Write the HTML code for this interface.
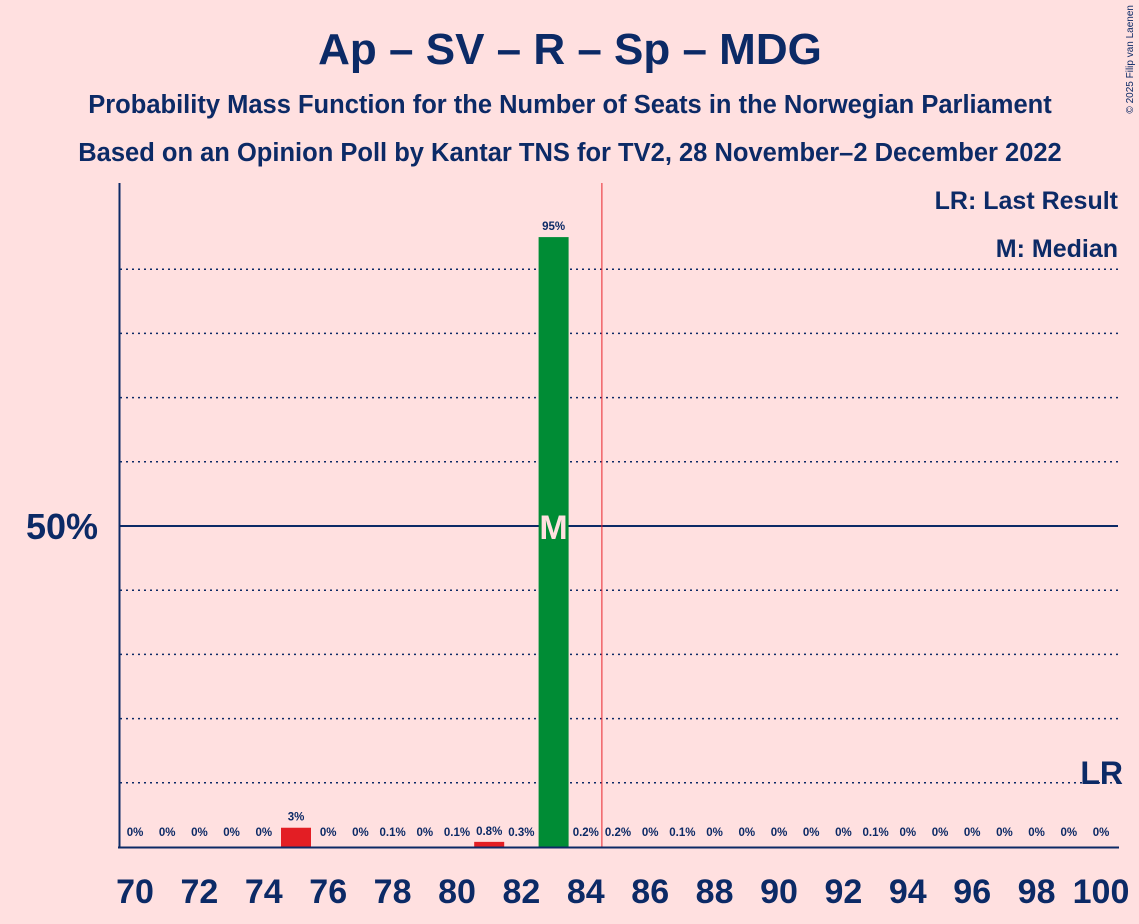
<!DOCTYPE html>
<html><head><meta charset="utf-8"><style>
body{margin:0;background:#ffe0e0;}
svg{display:block;font-family:"Liberation Sans",sans-serif;}
</style></head><body>
<svg id="c" width="1139" height="924" xmlns="http://www.w3.org/2000/svg">
<rect width="1139" height="924" fill="#ffe0e0"/>
<text x="570" y="64" text-anchor="middle" font-size="44" font-weight="bold" fill="#0c2a66">Ap – SV – R – Sp – MDG</text>
<text x="570" y="113" text-anchor="middle" font-size="25.5" font-weight="bold" fill="#0c2a66">Probability Mass Function for the Number of Seats in the Norwegian Parliament</text>
<text x="570" y="161" text-anchor="middle" font-size="25.5" font-weight="bold" fill="#0c2a66">Based on an Opinion Poll by Kantar TNS for TV2, 28 November–2 December 2022</text>
<text x="1133" y="5" font-size="10" fill="#0c2a66" transform="rotate(-90 1133 5)" text-anchor="end">© 2025 Filip van Laenen</text>
<g id="grid"></g>
<g id="bars"></g>
<line x1="119.5" y1="183" x2="119.5" y2="848" stroke="#0c2a66" stroke-width="2"/>
<line x1="118" y1="847.5" x2="1119" y2="847.5" stroke="#0c2a66" stroke-width="2"/>
<text x="98" y="539" text-anchor="end" font-size="36" font-weight="bold" fill="#0c2a66">50%</text>
<text x="1118" y="209" text-anchor="end" font-size="25" font-weight="bold" fill="#0c2a66">LR: Last Result</text>
<text x="1118" y="257" text-anchor="end" font-size="25" font-weight="bold" fill="#0c2a66">M: Median</text>
</svg>
<script>
const seats=[70,71,72,73,74,75,76,77,78,79,80,81,82,83,84,85,86,87,88,89,90,91,92,93,94,95,96,97,98,99,100];
const probs=[0,0,0,0,0,3,0,0,0.1,0,0.1,0.8,0.3,95,0.2,0.2,0,0.1,0,0,0,0,0,0.1,0,0,0,0,0,0,0];
const labels=["0%","0%","0%","0%","0%","3%","0%","0%","0.1%","0%","0.1%","0.8%","0.3%","95%","0.2%","0.2%","0%","0.1%","0%","0%","0%","0%","0%","0.1%","0%","0%","0%","0%","0%","0%","0%"];
const gridTicks=[10,20,30,40,60,70,80,90];
const lastResult=100, median=83, majority=85;
const NS="http://www.w3.org/2000/svg";
const X=s=>135+(s-70)*32.2;
const Y=p=>847-p*6.42;
function el(t,a,parent){const e=document.createElementNS(NS,t);for(const k in a)e.setAttribute(k,a[k]);parent.appendChild(e);return e;}
const svg=document.getElementById('c'),grid=document.getElementById('grid'),bars=document.getElementById('bars');
gridTicks.forEach(g=>{const l=el('line',{x1:120,x2:1118,y1:Y(g),y2:Y(g),stroke:'#0c2a66','stroke-width':1.5,'stroke-dasharray':'2,4'},grid);

});
const ml=el('line',{x1:120,x2:1118,y1:Y(50),y2:Y(50),stroke:'#0c2a66','stroke-width':2},grid);


const lr=el('line',{x1:X(majority-0.5),x2:X(majority-0.5),y1:183,y2:847,stroke:'#e8232a','stroke-width':1},grid);


seats.forEach((s,i)=>{
 const p=probs[i];
 const col=s===median?'#008c35':'#e31e24';
 if(p>=0.5){const h=p*6.42;
  const r=el('rect',{x:X(s)-15,y:847-h,width:30,height:h,fill:col},bars);
  
  }
 const top=p>=0.5?Y(p)-7:836;
 const t=el('text',{x:X(s),y:top,'text-anchor':'middle','font-size':11.5,'font-weight':'bold',fill:'#0c2a66'},bars);
 t.textContent=labels[i];
 
 
 if(s%2===0){const tx=el('text',{x:X(s),y:903,'text-anchor':'middle','font-size':34,'font-weight':'bold',fill:'#0c2a66'},svg);
  tx.textContent=s;
  
  }
 if(s===median){const m=el('text',{x:X(s),y:Y(50)+13,'text-anchor':'middle','font-size':34,'font-weight':'bold',fill:'#ffe0e0'},svg);
  m.textContent='M';
  
  }
 if(s===lastResult){const l=el('text',{x:X(s)+22,y:784,'text-anchor':'end','font-size':32,'font-weight':'bold',fill:'#0c2a66'},svg);
  l.textContent='LR';
  
  }
});
</script>
</body></html>
